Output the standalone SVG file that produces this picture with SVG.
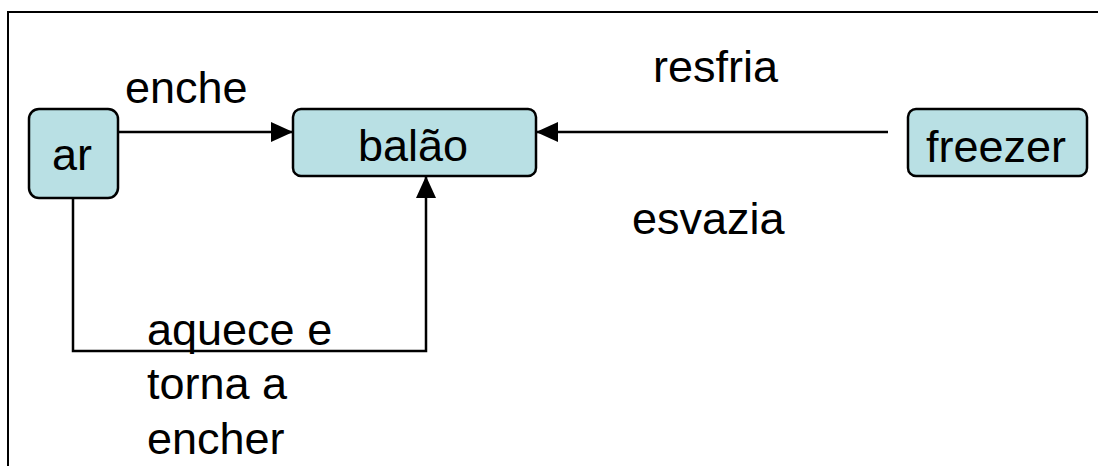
<svg xmlns="http://www.w3.org/2000/svg" width="1098" height="466" viewBox="0 0 1098 466">
<style>
.node{fill:#b9e0e4;stroke:#000;stroke-width:2.5}
.t{font-family:"Liberation Sans",Arial,sans-serif;font-size:45px;fill:#000}
.c{fill:none;stroke:#000;stroke-width:2.5}
</style>
<defs>
<marker id="ah" viewBox="0 0 22 20" refX="22" refY="10" markerWidth="22" markerHeight="20" markerUnits="userSpaceOnUse" orient="auto">
<path d="M0,0 L22,10 L0,20 Z" fill="#000"/>
</marker>
</defs>
<rect width="1098" height="466" fill="#fff"/>
<rect x="8" y="12" width="1100" height="470" fill="none" stroke="#000" stroke-width="2"/>
<g id="connectors">
<line class="c" x1="118" y1="132" x2="293" y2="132" marker-end="url(#ah)"/>
<line class="c" x1="888" y1="132" x2="536" y2="132" marker-end="url(#ah)"/>
<polyline class="c" points="73,198 73,351 426,351 426,176" marker-end="url(#ah)"/>
</g>
<g id="ar">
<rect class="node" x="29" y="109" width="89" height="89" rx="10"/>
<text class="t" x="72" y="170" text-anchor="middle">ar</text>
</g>
<g id="balao">
<rect class="node" x="293" y="109" width="243" height="67" rx="8"/>
<text class="t" x="413" y="161" text-anchor="middle">balão</text>
</g>
<g id="freezer">
<rect class="node" x="908" y="109" width="179" height="67" rx="8"/>
<text class="t" x="996" y="162" text-anchor="middle">freezer</text>
</g>
<g id="labels">
<text class="t" x="125" y="103">enche</text>
<text class="t" x="653" y="82">resfria</text>
<text class="t" x="632" y="234">esvazia</text>
<text class="t" x="147" y="345">aquece e</text>
<text class="t" x="147" y="399">torna a</text>
<text class="t" x="147" y="454">encher</text>
</g>
</svg>
